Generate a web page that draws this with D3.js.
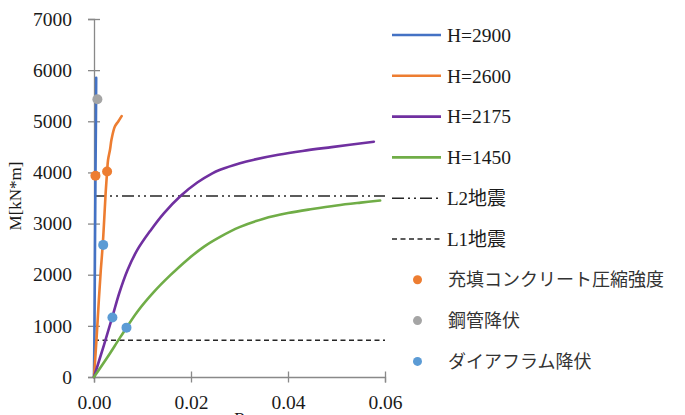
<!DOCTYPE html>
<html>
<head>
<meta charset="utf-8">
<script src="https://cdn.jsdelivr.net/npm/d3@7"></script>
<style>
  body { margin: 0; background: #fff; }
  svg { display: block; }
</style>
</head>
<body>
<svg id="chart" width="685" height="415"></svg>
<script>
// series names and colours
var seriesNames = ["H=2900", "H=2600", "H=2175", "H=1450"];
var seriesColors = ["#4472C4", "#ED7D31", "#7030A0", "#70AD47"];

// R values of each series
var r2900 = [0, 0.0001, 0.0002, 0.0003, 0.0004, 0.00045];
var r2600 = [0, 0.00055, 0.001, 0.0014, 0.0018, 0.0021, 0.0024, 0.0027, 0.0029, 0.0033, 0.0036, 0.0043, 0.005, 0.0057];
var r2175 = [0, 0.0021, 0.0038, 0.0052, 0.0069, 0.0089, 0.0117, 0.0144, 0.0179, 0.0213, 0.0244, 0.0260, 0.0301, 0.033, 0.038, 0.043, 0.049, 0.0577];
var r1450 = [0, 0.0028, 0.0055, 0.0089, 0.0124, 0.0158, 0.0192, 0.0227, 0.026, 0.03, 0.035, 0.04, 0.045, 0.05, 0.055, 0.059];

// M values of each series
var m2900 = [0, 1000, 2500, 3900, 5000, 5850];
var m2600 = [0, 789, 1507, 2088, 2583, 3072, 3595, 4018, 4247, 4442, 4638, 4898, 4996, 5100];
var m2175 = [0, 640, 1180, 1638, 2088, 2480, 2871, 3200, 3543, 3802, 3983, 4051, 4180, 4250, 4345, 4420, 4495, 4600];
var m1450 = [0, 391, 789, 1272, 1669, 1996, 2290, 2550, 2740, 2930, 3095, 3205, 3285, 3355, 3410, 3450];

// reference levels
var refNames = ["L2地震", "L1地震"];
var refValues = [3540, 720];

// marker points
var pointNames = ["充填コンクリート圧縮強度", "鋼管降伏", "ダイアフラム降伏"];
var pointColors = ["#ED7D31", "#A5A5A5", "#5B9BD5"];
var concreteR = [0.0003, 0.0027];
var concreteM = [3935, 4018];
var steelR = [0.0007];
var steelM = [5430];
var diaphragmR = [0.0019, 0.0038, 0.0067];
var diaphragmM = [2583, 1162, 965];

// axis ticks
var xTicks = [0, 0.02, 0.04, 0.06];
var yTicks = [0, 1000, 2000, 3000, 4000, 5000, 6000, 7000];

var FONT = "'Times New Roman', 'Liberation Serif', 'DejaVu Serif', 'Noto Sans CJK JP', serif";

var svg = d3.select("#chart");
var axisColor = "#898989";

var x = d3.scaleLinear().domain([0, 0.06]).range([94, 385]);
var y = d3.scaleLinear().domain([0, 7000]).range([377, 19]);

function zip(rs, ms) {
    return rs.map(function(r, i) { return [r, ms[i]]; });
}

var seriesData = [zip(r2900, m2900), zip(r2600, m2600), zip(r2175, m2175), zip(r1450, m1450)];
var pointData = [zip(concreteR, concreteM), zip(steelR, steelM), zip(diaphragmR, diaphragmM)];

// axes with ticks crossing the line
var xAxis = svg.append("g")
    .attr("transform", "translate(0," + y(0) + ")")
    .call(d3.axisBottom(x).tickValues(xTicks).tickSize(5.5).tickFormat(d3.format(".2f")).tickPadding(10));
xAxis.selectAll(".tick line").attr("y1", -5.5);

var yAxis = svg.append("g")
    .attr("transform", "translate(" + x(0) + ",0)")
    .call(d3.axisLeft(y).tickValues(yTicks).tickSize(6).tickFormat(d3.format("d")).tickPadding(16));
yAxis.selectAll(".tick line").attr("x1", 6);

[xAxis, yAxis].forEach(function(a) {
    a.attr("font-family", FONT);
    a.select(".domain").attr("stroke", axisColor).attr("stroke-width", 1.3);
    a.selectAll(".tick line").attr("stroke", axisColor).attr("stroke-width", 1.3);
    a.selectAll(".tick text").attr("fill", "#1a1a1a").attr("font-size", "19.5px");
});
xAxis.selectAll(".tick text").attr("dy", "0.85em");

// axis titles
svg.append("text")
    .attr("x", 240).attr("y", 424)
    .attr("text-anchor", "middle")
    .attr("font-family", FONT)
    .attr("font-size", "17px").attr("fill", "#1a1a1a")
    .text("R");

svg.append("text")
    .attr("transform", "translate(21,196) rotate(-90)")
    .attr("text-anchor", "middle")
    .attr("font-family", FONT)
    .attr("font-size", "17px").attr("fill", "#1a1a1a")
    .text("M[kN*m]");

// reference lines
var refDash = ["12,4,2,4,2,4", "5,3.5"];
svg.selectAll("line.ref")
    .data(refValues)
    .enter()
    .append("line")
    .attr("class", "ref")
    .attr("x1", x(0)).attr("x2", x(0.06))
    .attr("y1", function(d) { return y(d); })
    .attr("y2", function(d) { return y(d); })
    .attr("stroke", "#262626")
    .attr("stroke-width", 1.4)
    .attr("stroke-dasharray", function(d, i) { return refDash[i]; });

// series lines
var line = d3.line()
    .curve(d3.curveCatmullRom.alpha(0.5))
    .x(function(d) { return x(d[0]); })
    .y(function(d) { return y(d[1]); });

svg.selectAll("path.series")
    .data(seriesData)
    .enter()
    .append("path")
    .attr("class", "series")
    .attr("d", line)
    .attr("fill", "none")
    .attr("stroke", function(d, i) { return seriesColors[i]; })
    .attr("stroke-width", 2.6)
    .attr("stroke-linejoin", "round")
    .attr("stroke-linecap", "round");

// marker points
pointData.forEach(function(pts, i) {
    svg.selectAll("circle.p" + i)
        .data(pts)
        .enter()
        .append("circle")
        .attr("class", "p" + i)
        .attr("cx", function(d) { return x(d[0]); })
        .attr("cy", function(d) { return y(d[1]); })
        .attr("r", 5)
        .attr("fill", pointColors[i]);
});

// legend
var legendY0 = 35;
var legendStep = 40.8;
var legend = svg.append("g").attr("font-family", FONT);
var row = 0;

seriesNames.forEach(function(name, i) {
    var ly = legendY0 + row * legendStep;
    legend.append("line")
        .attr("x1", 392).attr("x2", 441)
        .attr("y1", ly).attr("y2", ly)
        .attr("stroke", seriesColors[i])
        .attr("stroke-width", 2.6);
    legend.append("text")
        .attr("x", 447).attr("y", ly)
        .attr("dy", "0.35em")
        .attr("font-size", "19.5px").attr("fill", "#1a1a1a")
        .text(name);
    row++;
});

refNames.forEach(function(name, i) {
    var ly = legendY0 + row * legendStep;
    legend.append("line")
        .attr("x1", 392).attr("x2", 441)
        .attr("y1", ly).attr("y2", ly)
        .attr("stroke", "#262626")
        .attr("stroke-width", 1.4)
        .attr("stroke-dasharray", refDash[i]);
    legend.append("text")
        .attr("x", 447).attr("y", ly)
        .attr("dy", "0.35em")
        .attr("font-size", "19px").attr("fill", "#1a1a1a")
        .text(name);
    row++;
});

pointNames.forEach(function(name, i) {
    var ly = legendY0 + row * legendStep;
    legend.append("circle")
        .attr("cx", 417.5).attr("cy", ly)
        .attr("r", 4.5)
        .attr("fill", pointColors[i]);
    legend.append("text")
        .attr("x", 448).attr("y", ly)
        .attr("dy", "0.35em")
        .attr("font-size", "18px").attr("fill", "#333")
        .text(name);
    row++;
});
</script>
</body>
</html>
